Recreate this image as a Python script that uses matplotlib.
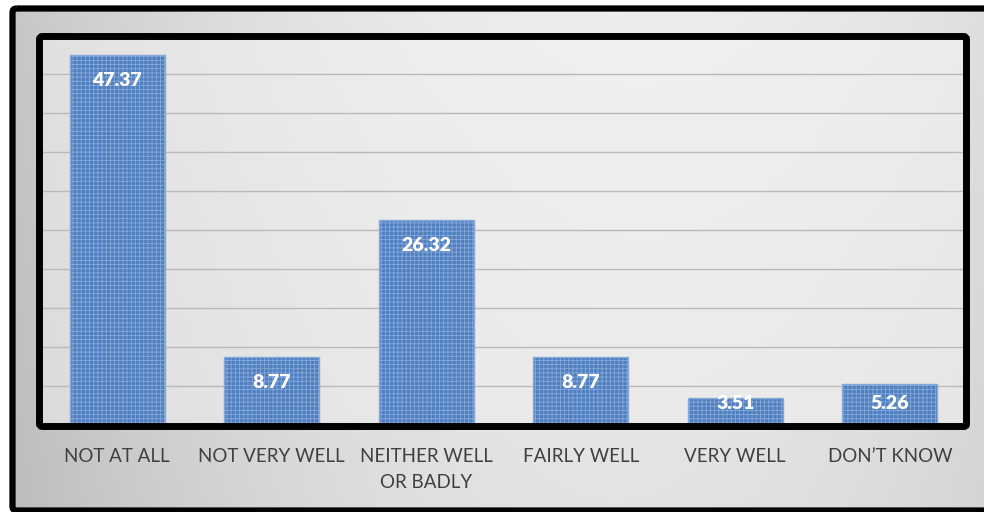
import numpy as np
import matplotlib
matplotlib.use("Agg")
import matplotlib.pyplot as plt
from matplotlib.patches import FancyBboxPatch

categories = ["NOT AT ALL", "NOT VERY WELL", "NEITHER WELL\nOR BADLY", "FAIRLY WELL", "VERY WELL", "DON\u2019T KNOW"]
values = [47.37, 8.77, 26.32, 8.77, 3.51, 5.26]
value_labels = ["47.37", "8.77", "26.32", "8.77", "3.51", "5.26"]

plt.rcParams['font.family'] = ['Lato', 'DejaVu Sans']
plt.rcParams['hatch.linewidth'] = 0.6

W, H = 984, 512
fig = plt.figure(figsize=(W / 100, H / 100), dpi=100)
fig.patch.set_facecolor('white')

# background axes in pixel coordinates
bg = fig.add_axes([0, 0, 1, 1], zorder=0)
bg.set_xlim(0, W)
bg.set_ylim(H, 0)
bg.axis('off')

# outer gradient
ox0, oy0, ox1, oy1 = 12, 8, W, 510
xx, yy = np.meshgrid(np.linspace(0, 1, 300), np.linspace(0, 1, 150))
v = 0.93 - 0.15 * ((xx - 0.62) / 0.62) ** 2 - 0.04 * yy
bg.imshow(np.dstack([v, v, v]), extent=(ox0, ox1, oy1, oy0), aspect='auto', zorder=1)

# inner plot-area gradient
px0, py0, px1, py1 = 40, 34.5, 967, 425.5
v2 = 0.94 - 0.06 * ((xx - 0.65) / 0.65) ** 2 - 0.02 * yy
bg.imshow(np.dstack([v2, v2, v2]), extent=(px0, px1, py1, py0), aspect='auto', zorder=2)

# main axes
ax = fig.add_axes([px0 / W, 1 - py1 / H, (px1 - px0) / W, (py1 - py0) / H], zorder=5)
ax.patch.set_alpha(0)
x = np.arange(len(categories))
ax.bar(x, values, width=0.615, facecolor='#4F7FBF', edgecolor='#86A8DA',
       linewidth=1.0, hatch='++++', zorder=3)
ax.set_xlim(-0.5, len(categories) - 0.5)
ax.set_ylim(0, 50)
ax.set_yticks(np.arange(0, 51, 5))
ax.yaxis.grid(True, color='#BABABA', linewidth=1.0, zorder=0)
ax.set_axisbelow(True)
ax.tick_params(axis='y', length=0, labelleft=False)
ax.set_xticks(x)
ax.set_xticklabels(categories, fontsize=13.5, color='#404040', linespacing=1.65)
ax.tick_params(axis='x', length=0, pad=16)
for s in ['top', 'right', 'left']:
    ax.spines[s].set_visible(False)
ax.spines['bottom'].set_color('#404040')
ax.spines['bottom'].set_linewidth(2.5)
ax.spines['bottom'].set_zorder(4)

for xi, val, lab in zip(x, values, value_labels):
    ypos = max(val - 3.3, 2.85)
    ax.text(xi, ypos, lab, ha='center', va='center', color='white',
            fontsize=14, fontweight='heavy', zorder=6)

# overlay for frames
ov = fig.add_axes([0, 0, 1, 1], zorder=10)
ov.set_xlim(0, W)
ov.set_ylim(H, 0)
ov.axis('off')
ov.patch.set_alpha(0)
outer = FancyBboxPatch((12.5, 8.5), 1100, 502, boxstyle='round,pad=0,rounding_size=4',
                       facecolor='none', edgecolor='black', linewidth=4.5)
ov.add_patch(outer)
inner = FancyBboxPatch((39.5, 36.5), 927, 390, boxstyle='round,pad=0,rounding_size=3',
                       facecolor='none', edgecolor='black', linewidth=5)
ov.add_patch(inner)

fig.savefig('out.png', dpi=100, facecolor=fig.get_facecolor())
